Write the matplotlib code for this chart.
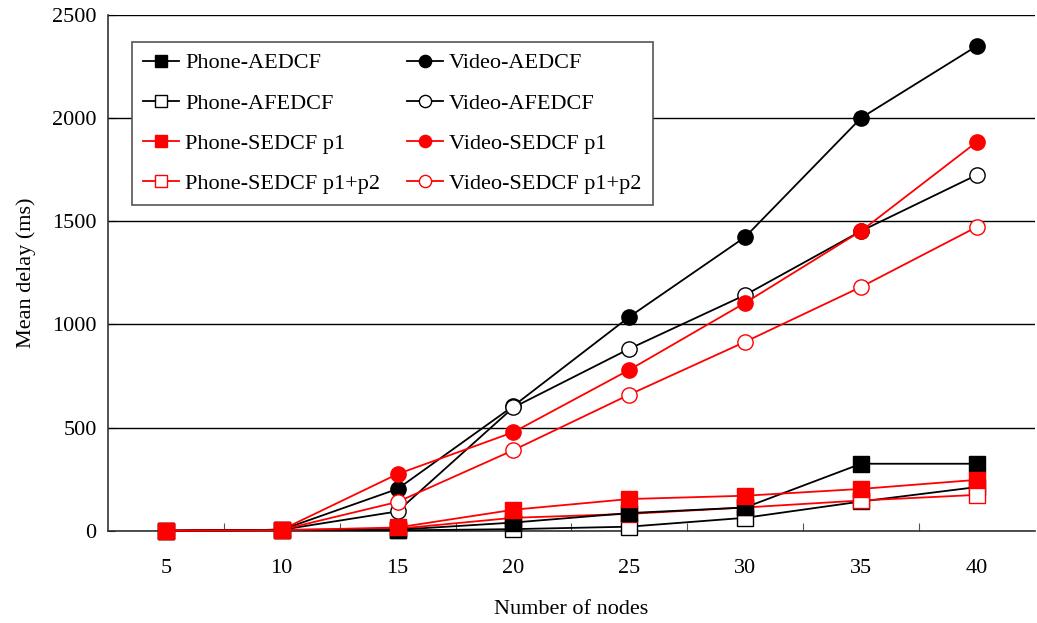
import matplotlib
matplotlib.use("Agg")
import matplotlib.pyplot as plt
import numpy as np

plt.rcParams['font.family'] = ['Liberation Serif', 'DejaVu Serif']

# number of nodes (category axis)
nodes = ["5", "10", "15", "20", "25", "30", "35", "40"]

# mean delay (ms)
phone_aedcf = [0, 5, 5, 40, 86, 113, 325, 325]
phone_afedcf = [0, 3, 2, 8, 20, 63, 142, 212]
phone_sedcf_p1 = [0, 3, 16, 102, 154, 170, 203, 247]
phone_sedcf_p1p2 = [0, 3, 10, 63, 82, 113, 147, 174]
video_aedcf = [0, 5, 203, 605, 1037, 1424, 2001, 2350]
video_afedcf = [0, 5, 94, 598, 882, 1143, 1453, 1725]
video_sedcf_p1 = [0, 5, 275, 478, 780, 1105, 1453, 1885]
video_sedcf_p1p2 = [0, 5, 140, 391, 660, 916, 1182, 1473]

x = np.arange(len(nodes))

fig = plt.figure(figsize=(10.37, 6.23), dpi=100)
ax = fig.add_axes([0.104, 0.148, 0.894, 0.828])

ms = 11
lw = 1.3
# legend order is column-wise; zorder puts the phone series on top like the original
ax.plot(x, phone_aedcf, color='black', lw=lw, marker='s', ms=ms, mfc='black', mec='black', label='Phone-AEDCF', zorder=6, clip_on=False)
ax.plot(x, phone_afedcf, color='black', lw=lw, marker='s', ms=ms, mfc='white', mec='black', label='Phone-AFEDCF', zorder=4, clip_on=False)
ax.plot(x, phone_sedcf_p1, color='red', lw=lw, marker='s', ms=ms, mfc='red', mec='red', label='Phone-SEDCF p1', zorder=7, clip_on=False)
ax.plot(x, phone_sedcf_p1p2, color='red', lw=lw, marker='s', ms=ms, mfc='white', mec='red', label='Phone-SEDCF p1+p2', zorder=5, clip_on=False)
ax.plot(x, video_aedcf, color='black', lw=lw, marker='o', ms=ms, mfc='black', mec='black', label='Video-AEDCF', zorder=3, clip_on=False)
ax.plot(x, video_afedcf, color='black', lw=lw, marker='o', ms=ms, mfc='white', mec='black', label='Video-AFEDCF', zorder=3, clip_on=False)
ax.plot(x, video_sedcf_p1, color='red', lw=lw, marker='o', ms=ms, mfc='red', mec='red', label='Video-SEDCF p1', zorder=3, clip_on=False)
ax.plot(x, video_sedcf_p1p2, color='red', lw=lw, marker='o', ms=ms, mfc='white', mec='red', label='Video-SEDCF p1+p2', zorder=3, clip_on=False)

ax.set_xlim(-0.5, len(nodes) - 0.5)
ax.set_ylim(0, 2500)
ax.set_xticks(x)
ax.set_xticklabels(nodes)
ax.set_xticks(np.arange(0.5, len(nodes) - 0.5, 1), minor=True)
ax.tick_params(axis='x', which='major', length=0, pad=20, labelsize=16)
ax.tick_params(axis='x', which='minor', direction='in', length=6, width=0.8, color='#555555')
ax.set_yticks(np.arange(0, 2501, 500))
ax.tick_params(axis='y', direction='in', length=5, pad=8, labelsize=16)

ax.grid(axis='y', color='black', lw=1.0)
ax.set_axisbelow(True)
for s in ['top', 'right']:
    ax.spines[s].set_visible(False)
ax.spines['left'].set_color('#333333')
ax.spines['bottom'].set_color('#333333')
ax.spines['left'].set_linewidth(1.2)
ax.spines['bottom'].set_linewidth(1.2)

ax.set_xlabel('Number of nodes', fontsize=16, labelpad=16)
ax.set_ylabel('Mean delay (ms)', fontsize=16, labelpad=12)

leg = ax.legend(ncol=2, loc='upper left', bbox_to_anchor=(0.026, 0.948),
                borderaxespad=0, fontsize=16, frameon=True, fancybox=False,
                edgecolor='#555555', framealpha=1, handlelength=1.6,
                handletextpad=0.3, columnspacing=1.2, labelspacing=0.88,
                borderpad=0.5, markerscale=0.8)
leg.get_frame().set_linewidth(1.2)
leg.set_zorder(10)

fig.savefig('out.png', dpi=100)
